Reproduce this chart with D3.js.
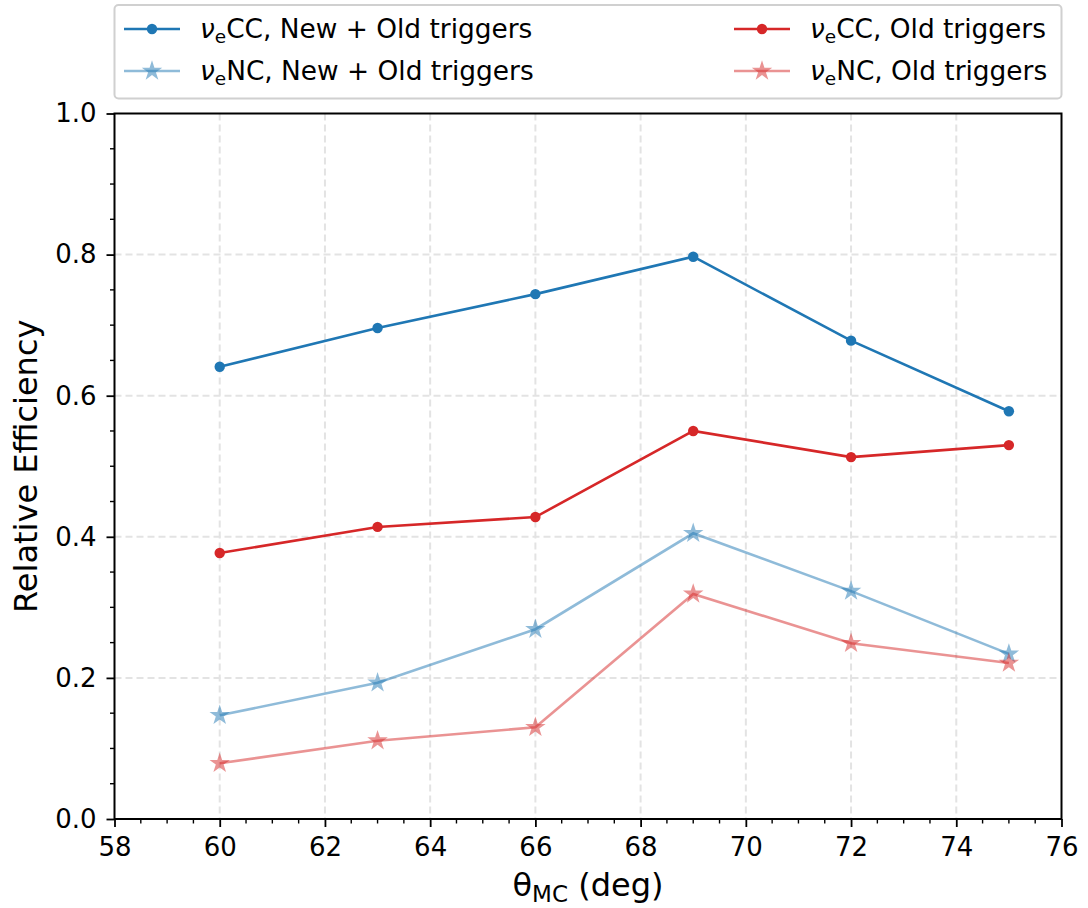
<!DOCTYPE html>
<html>
<head>
<meta charset="utf-8">
<script src="https://cdn.jsdelivr.net/npm/d3@7"></script>
<style>
  html, body { margin: 0; padding: 0; background: #fff; }
  svg text { font-family: "DejaVu Sans", sans-serif; fill: #000; }
</style>
</head>
<body>
<svg id="chart" width="1088" height="908"></svg>
<script>
// Zenith angles (deg) of the simulated samples
const theta = [60, 63, 66, 69, 72, 75];

// Relative efficiencies per sample
const ccNewOld = [0.641, 0.696, 0.744, 0.797, 0.678, 0.578];
const ccOld    = [0.377, 0.414, 0.428, 0.550, 0.513, 0.530];
const ncNewOld = [0.147, 0.193, 0.269, 0.405, 0.323, 0.234];
const ncOld    = [0.079, 0.111, 0.130, 0.319, 0.249, 0.221];

const xTicks = [58, 60, 62, 64, 66, 68, 70, 72, 74, 76];
const yTicks = [0.0, 0.2, 0.4, 0.6, 0.8, 1.0];

const series = [
  { flavour: "CC", label: ", New + Old triggers", values: ccNewOld, color: "#1f77b4", alpha: 1,   marker: "circle", col: 0, row: 0 },
  { flavour: "NC", label: ", New + Old triggers", values: ncNewOld, color: "#1f77b4", alpha: 0.5, marker: "star",   col: 0, row: 1 },
  { flavour: "CC", label: ", Old triggers",       values: ccOld,    color: "#d62728", alpha: 1,   marker: "circle", col: 1, row: 0 },
  { flavour: "NC", label: ", Old triggers",       values: ncOld,    color: "#d62728", alpha: 0.5, marker: "star",   col: 1, row: 1 }
];

const svg = d3.select("#chart");
const plot = { left: 114.5, right: 1061.5, top: 113.5, bottom: 819 };

const x = d3.scaleLinear().domain([58, 76]).range([plot.left, plot.right]);
const y = d3.scaleLinear().domain([0, 1]).range([plot.bottom, plot.top]);

// Dashed grid at major ticks
const grid = svg.append("g").attr("stroke", "#e3e3e3").attr("stroke-width", 2).attr("stroke-dasharray", "7,4");
grid.selectAll("line.gx").data(xTicks.slice(1, -1)).join("line")
  .attr("x1", d => x(d)).attr("x2", d => x(d)).attr("y1", plot.top).attr("y2", plot.bottom);
grid.selectAll("line.gy").data(yTicks.slice(1, -1)).join("line")
  .attr("y1", d => y(d)).attr("y2", d => y(d)).attr("x1", plot.left).attr("x2", plot.right);

// Series lines and markers
const line = d3.line().x((d, i) => x(theta[i])).y(d => y(d));
const star = d3.symbol().type(d3.symbolStar).size(130);
const dot = d3.symbol().type(d3.symbolCircle).size(85);

series.forEach(s => {
  const g = svg.append("g");
  g.append("path").datum(s.values)
    .attr("d", line).attr("fill", "none")
    .attr("stroke", s.color).attr("stroke-width", 2.6).attr("stroke-opacity", s.alpha);
  g.selectAll("path.m").data(s.values).join("path")
    .attr("class", "m")
    .attr("transform", (d, i) => `translate(${x(theta[i])},${y(d)})`)
    .attr("d", s.marker === "star" ? star : dot)
    .attr("fill", s.color).attr("fill-opacity", s.alpha);
});

// Axes
const xAxis = d3.axisBottom(x).tickValues(xTicks).tickFormat(d3.format("d")).tickSize(8).tickPadding(11);
const yAxis = d3.axisLeft(y).tickValues(yTicks).tickFormat(d3.format(".1f")).tickSize(8).tickPadding(10);

const gx = svg.append("g").attr("transform", `translate(0,${plot.bottom})`).call(xAxis);
const gy = svg.append("g").attr("transform", `translate(${plot.left},0)`).call(yAxis);
[gx, gy].forEach(g => {
  g.select(".domain").remove();
  g.selectAll(".tick line").attr("stroke", "#000").attr("stroke-width", 1.8);
  g.selectAll(".tick text").attr("font-size", 26).attr("font-family", "DejaVu Sans").attr("fill", "#000");
});

// Minor ticks
const xMinor = d3.range(58.5, 76, 0.5).filter(v => v % 2 !== 0);
const yMinor = d3.range(1, 20).map(i => i * 0.05).filter((v, i) => (i + 1) % 4 !== 0);
svg.append("g").selectAll("line").data(xMinor).join("line")
  .attr("x1", d => x(d)).attr("x2", d => x(d)).attr("y1", plot.bottom).attr("y2", plot.bottom + 4.5)
  .attr("stroke", "#000").attr("stroke-width", 1.4);
svg.append("g").selectAll("line").data(yMinor).join("line")
  .attr("y1", d => y(d)).attr("y2", d => y(d)).attr("x1", plot.left).attr("x2", plot.left - 4.5)
  .attr("stroke", "#000").attr("stroke-width", 1.4);

// Frame
svg.append("rect")
  .attr("x", plot.left).attr("y", plot.top)
  .attr("width", plot.right - plot.left).attr("height", plot.bottom - plot.top)
  .attr("fill", "none").attr("stroke", "#000").attr("stroke-width", 2);

// Axis titles
const xt = svg.append("text").attr("x", (plot.left + plot.right) / 2).attr("y", 896)
  .attr("text-anchor", "middle").attr("font-size", 32);
xt.append("tspan").text("θ");
xt.append("tspan").attr("font-size", 23).attr("dy", 6).text("MC");
xt.append("tspan").attr("dy", -6).text(" (deg)");

svg.append("text")
  .attr("transform", `translate(37,${(plot.top + plot.bottom) / 2}) rotate(-90)`)
  .attr("text-anchor", "middle").attr("font-size", 32)
  .text("Relative Efficiency");

// Legend
const leg = svg.append("g");
leg.append("rect").attr("x", 114.5).attr("y", 5).attr("width", 947).attr("height", 93.5)
  .attr("rx", 4).attr("fill", "#fff").attr("fill-opacity", 0.8)
  .attr("stroke", "#d0d0d0").attr("stroke-width", 2);

const colX = [124, 734];
const rowY = [29, 71];
series.forEach(s => {
  const lx = colX[s.col], ly = rowY[s.row];
  const g = leg.append("g");
  g.append("line").attr("x1", lx).attr("x2", lx + 56).attr("y1", ly).attr("y2", ly)
    .attr("stroke", s.color).attr("stroke-width", 2.6).attr("stroke-opacity", s.alpha);
  g.append("path").attr("transform", `translate(${lx + 28},${ly})`)
    .attr("d", s.marker === "star" ? star : dot)
    .attr("fill", s.color).attr("fill-opacity", s.alpha);
  const t = g.append("text").attr("x", lx + 76).attr("y", ly + 9).attr("font-size", 26.4);
  t.append("tspan").attr("font-style", "italic").text("ν");
  t.append("tspan").attr("font-size", 18.5).attr("dy", 4.5).text("e");
  t.append("tspan").attr("dy", -4.5).text(s.flavour + s.label);
});
</script>
</body>
</html>
